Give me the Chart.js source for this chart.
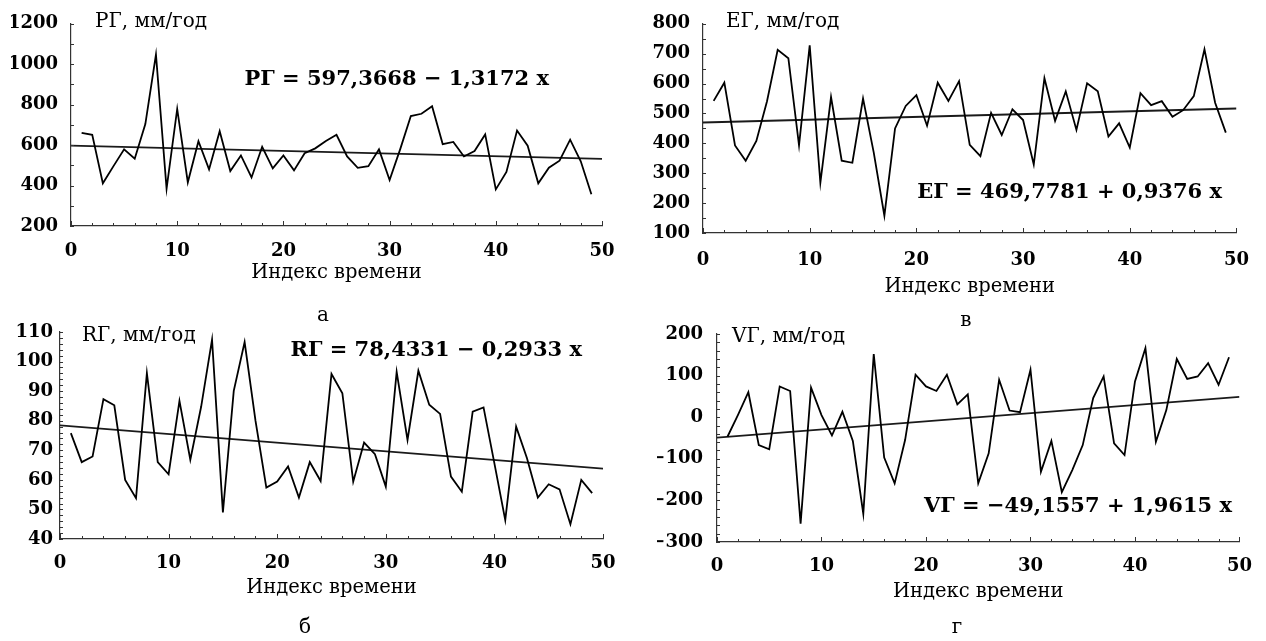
<!DOCTYPE html>
<html><head><meta charset="utf-8">
<script src="https://cdn.jsdelivr.net/npm/chart.js@4.4.1/dist/chart.umd.min.js"></script>
<style>
html,body{margin:0;padding:0;background:#fff;width:1266px;height:641px;overflow:hidden}
canvas{position:absolute;left:0;top:0}
</style></head>
<body>
<canvas id="cA" width="1266" height="641"></canvas>
<canvas id="cV" width="1266" height="641"></canvas>
<canvas id="cB" width="1266" height="641"></canvas>
<canvas id="cG" width="1266" height="641"></canvas>
<script>
// ---- data ----
const timeIndex = [1,2,3,4,5,6,7,8,9,10,11,12,13,14,15,16,17,18,19,20,21,22,23,24,25,26,27,28,29,30,31,32,33,34,35,36,37,38,39,40,41,42,43,44,45,46,47,48,49];
const xTickValues = [0,10,20,30,40,50];

const pgValues = [661,651,411,496,579,533,704,1048,384,779,416,619,480,669,472,549,440,592,485,549,475,560,584,620,651,544,488,496,579,427,580,744,755,792,605,616,544,571,653,381,467,672,597,411,488,523,627,520,357];
const egValues = [542,603,393,342,408,541,713,685,393,728,268,555,342,335,550,370,158,450,525,561,459,603,542,608,395,357,502,428,514,478,329,618,475,574,445,601,574,423,467,386,568,528,541,489,511,558,715,536,436];
const rgValues = [75.8,66.0,67.9,87.3,85.2,60.0,53.8,96.1,66.0,61.9,86.7,66.8,84.8,107.4,49.0,90.1,106.6,80,57.4,59.4,64.5,54.0,66.0,59.6,95.8,89.3,59.4,72.6,68.7,57.7,96.5,73.5,96.9,85.4,82.3,61.1,56.0,83.1,84.5,65.6,46.4,78.0,67.3,54.0,58.5,56.8,45.0,60.0,55.5];
const vgValues = [-47,5,60,-67,-77,74,63,-256,71,5,-44,13,-57,-232,152,-97,-159,-55,102,74,63,102,31,55,-159,-87,90,16,12,114,-131,-57,-180,-127,-67,46,98,-63,-91,86,166,-59,17,140,92,98,130,78,144];

const pgTicks = [200,400,600,800,1000,1200];
const egTicks = [100,200,300,400,500,600,700,800];
const rgTicks = [40,50,60,70,80,90,100,110];
const vgTicks = [-300,-200,-100,0,100,200];

// trend coefficients: [intercept, slope]
const pgTrend = [597.3668, -1.3172];
const egTrend = [469.7781, 0.9376];
const rgTrend = [78.4331, -0.2933];
const vgTrend = [-49.1557, 1.9615];

const pgEquation = 'РГ = 597,3668 − 1,3172 x';
const egEquation = 'ЕГ = 469,7781 + 0,9376 x';
const rgEquation = 'RГ = 78,4331 − 0,2933 x';
const vgEquation = 'VГ = −49,1557 + 1,9615 x';

// ---- rendering ----
const FAMILY = '"DejaVu Serif", "Liberation Serif", serif';
Chart.defaults.font.family = FAMILY;
Chart.defaults.color = '#000';

const decorPlugin = {
  id: 'panelDecor',
  afterDraw(chart, args, o) {
    const ctx = chart.ctx;
    const xs = chart.scales.x, ys = chart.scales.y;
    const a = chart.chartArea;
    ctx.save();
    ctx.strokeStyle = '#333';
    ctx.lineWidth = 1;
    ctx.beginPath();
    for (let v = xs.min; v <= xs.max + 1e-9; v += o.minorX) {
      const px = Math.round(xs.getPixelForValue(v)) + 0.5;
      const len = (Math.abs(v % 10) < 1e-9) ? 5 : 3;
      ctx.moveTo(px, a.bottom);
      ctx.lineTo(px, a.bottom - len);
    }
    for (let v = ys.min; v <= ys.max + 1e-9; v += o.minorY) {
      const py = Math.round(ys.getPixelForValue(v)) + 0.5;
      ctx.moveTo(a.left, py);
      ctx.lineTo(a.left + 3, py);
    }
    ctx.stroke();
    ctx.fillStyle = '#000';
    ctx.textBaseline = 'middle';
    ctx.font = '20px ' + FAMILY;
    ctx.textAlign = 'left';
    ctx.fillText(o.yTitle, o.yTitleX, o.yTitleY);
    ctx.font = 'bold 21px ' + FAMILY;
    ctx.textAlign = 'right';
    ctx.fillText(o.equation, o.eqRight, o.eqY);
    ctx.font = '20px ' + FAMILY;
    ctx.textAlign = 'center';
    ctx.fillText(o.letter, o.letterX, o.letterY);
    ctx.restore();
  }
};

function fmt(v) { return v < 0 ? '−' + Math.abs(v) : String(v); }

function makePanel(id, values, yTicks, trend, p) {
  const series = timeIndex.map((x, i) => ({x: x, y: values[i]}));
  const trendLine = [0, 50].map(x => ({x: x, y: trend[0] + trend[1] * x}));
  const XH = 70, YW = 60;
  new Chart(document.getElementById(id), {
    type: 'line',
    data: {
      datasets: [
        {data: series, borderColor: '#000', borderWidth: 1.8, pointRadius: 0, tension: 0, fill: false},
        {data: trendLine, borderColor: '#1a1a1a', borderWidth: 1.8, pointRadius: 0, tension: 0, fill: false}
      ]
    },
    options: {
      responsive: false,
      animation: false,
      devicePixelRatio: 1,
      events: [],
      layout: {padding: {left: p.l - YW, right: 1266 - p.r, top: p.t, bottom: 641 - p.b - XH}},
      plugins: {
        legend: {display: false},
        tooltip: {enabled: false},
        panelDecor: {
          minorX: 2, minorY: p.minorY,
          yTitle: p.yTitle, yTitleX: p.yTitleX, yTitleY: p.yTitleY,
          equation: p.equation, eqRight: p.eqRight, eqY: p.eqY,
          letter: p.letter, letterX: p.letterX, letterY: p.letterY
        }
      },
      scales: {
        x: {
          type: 'linear', min: 0, max: 50,
          afterBuildTicks: s => { s.ticks = xTickValues.map(v => ({value: v})); },
          afterFit: s => { s.height = XH; },
          grid: {display: false, drawTicks: false, tickLength: 0},
          border: {display: true, color: '#333', width: 1.2},
          ticks: {font: {size: 18, weight: 'bold'}, color: '#000', padding: p.xPad, maxRotation: 0, autoSkip: false, callback: fmt},
          title: {display: true, text: 'Индекс времени', color: '#000', font: {size: 19.5, lineHeight: 1.2}, padding: {top: 0, bottom: (p.b + XH) - 11.7 - p.titleY}}
        },
        y: {
          type: 'linear', min: yTicks[0], max: yTicks[yTicks.length - 1],
          afterBuildTicks: s => { s.ticks = yTicks.map(v => ({value: v})); },
          afterFit: s => { s.width = YW; },
          grid: {display: false, drawTicks: false, tickLength: 0},
          border: {display: true, color: '#333', width: 1.2},
          ticks: {font: {size: 18, weight: 'bold'}, color: '#000', padding: p.yPad, autoSkip: false, callback: fmt}
        }
      }
    },
    plugins: [decorPlugin]
  });
}

makePanel('cA', pgValues, pgTicks, pgTrend, {
  l: 71, r: 602, t: 22, b: 226, minorY: 100, xPad: 15, yPad: 13, titleY: 273,
  yTitle: 'РГ, мм/год', yTitleX: 95, yTitleY: 22,
  equation: pgEquation, eqRight: 549, eqY: 80,
  letter: 'а', letterX: 323, letterY: 316
});
makePanel('cV', egValues, egTicks, egTrend, {
  l: 703, r: 1243, t: 22, b: 233, minorY: 50, xPad: 17, yPad: 13, titleY: 287,
  yTitle: 'ЕГ, мм/год', yTitleX: 726, yTitleY: 22,
  equation: egEquation, eqRight: 1222, eqY: 193,
  letter: 'в', letterX: 966, letterY: 321
});
makePanel('cB', rgValues, rgTicks, rgTrend, {
  l: 60, r: 603, t: 332, b: 539, minorY: 2, xPad: 14, yPad: 7, titleY: 588,
  yTitle: 'RГ, мм/год', yTitleX: 82, yTitleY: 336,
  equation: rgEquation, eqRight: 582, eqY: 351,
  letter: 'б', letterX: 305, letterY: 628
});
makePanel('cG', vgValues, vgTicks, vgTrend, {
  l: 717, r: 1246, t: 334, b: 542, minorY: 20, xPad: 14, yPad: 14, titleY: 592,
  yTitle: 'VГ, мм/год', yTitleX: 732, yTitleY: 337,
  equation: vgEquation, eqRight: 1232, eqY: 507,
  letter: 'г', letterX: 957, letterY: 628
});
</script>
</body></html>
